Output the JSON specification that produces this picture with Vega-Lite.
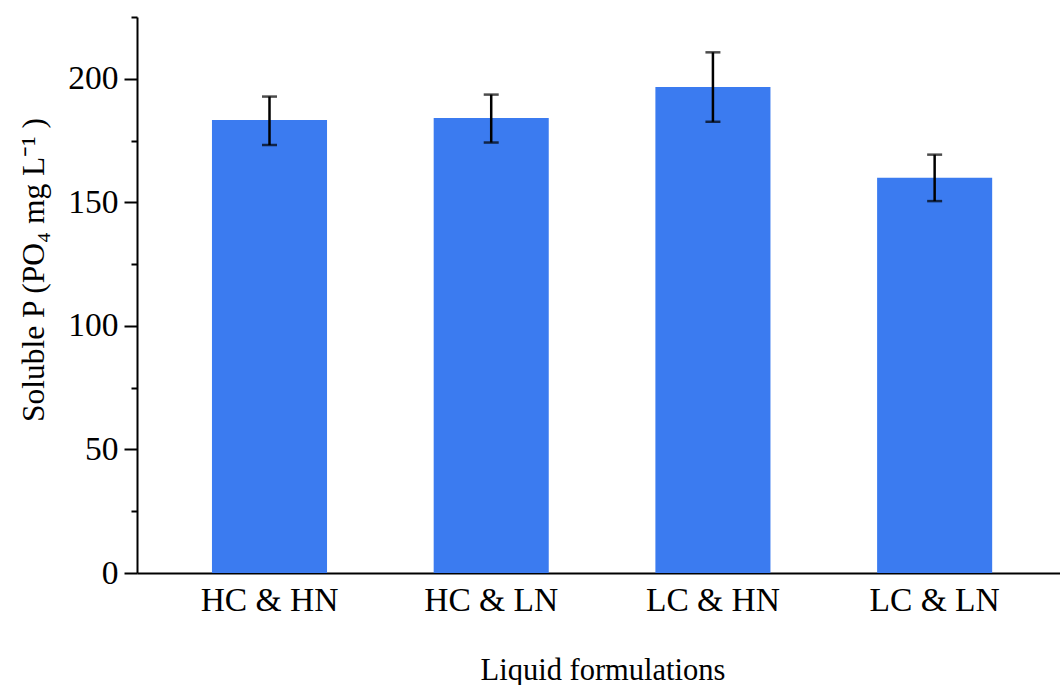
{
  "$schema": "https://vega.github.io/schema/vega-lite/v6.json",
  "autosize": "none",
  "padding": {"left": 137, "top": 17, "right": 0, "bottom": 112},
  "width": 923,
  "height": 556,
  "background": "white",
  "config": {
    "view": {"stroke": null},
    "font": "Liberation Serif",
    "axis": {"grid": false, "domainColor": "black", "domainWidth": 2, "tickColor": "black", "tickWidth": 2, "labelColor": "black", "titleColor": "black", "labelFont": "Liberation Serif", "titleFont": "Liberation Serif", "titleFontWeight": "normal"}
  },
  "data": {
    "values": [
      {"formulation": "HC & HN", "mean": 183.3, "lower": 173.2, "upper": 192.8},
      {"formulation": "HC & LN", "mean": 184.1, "lower": 174.2, "upper": 193.6},
      {"formulation": "LC & HN", "mean": 196.7, "lower": 182.6, "upper": 210.7},
      {"formulation": "LC & LN", "mean": 159.9, "lower": 150.5, "upper": 169.3}
    ]
  },
  "encoding": {
    "x": {
      "field": "formulation",
      "type": "nominal",
      "sort": null,
      "scale": {"paddingInner": 0.481, "paddingOuter": 0.322, "align": 0.525},
      "axis": {
        "title": "Liquid formulations",
        "titleFontSize": 30.5,
        "titleBaseline": "alphabetic",
        "titleX": 465.5,
        "titleY": 106,
        "labelAngle": 0,
        "labelFontSize": 33.5,
        "labelBaseline": "alphabetic",
        "labelPadding": 37,
        "ticks": false,
        "tickSize": 0
      }
    }
  },
  "layer": [
    {
      "mark": {"type": "bar", "color": "#3b7bf0"},
      "encoding": {
        "y": {
          "field": "mean",
          "type": "quantitative",
          "title": "Soluble P (PO₄ mg L⁻¹ )",
          "scale": {"domain": [0, 225], "nice": false},
          "axis": {
            "titleFontSize": 31.5,
            "titleBaseline": "alphabetic",
            "titleX": -94,
            "titleY": 252.5,
            "values": [0, 25, 50, 75, 100, 125, 150, 175, 200, 225],
            "labelExpr": "datum.value % 50 === 0 ? datum.label : ''",
            "labelFontSize": 33.5,
            "labelPadding": 6,
            "tickSize": {"condition": {"test": "datum.value % 50 === 0", "value": 13}, "value": 6}
          }
        }
      }
    },
    {
      "mark": {
        "type": "errorbar",
        "ticks": {"size": 15, "thickness": 2.5, "color": "black"},
        "rule": {"strokeWidth": 2.5, "color": "black"}
      },
      "encoding": {
        "y": {"field": "lower", "type": "quantitative", "title": "Soluble P (PO₄ mg L⁻¹ )"},
        "y2": {"field": "upper"}
      }
    }
  ]
}
